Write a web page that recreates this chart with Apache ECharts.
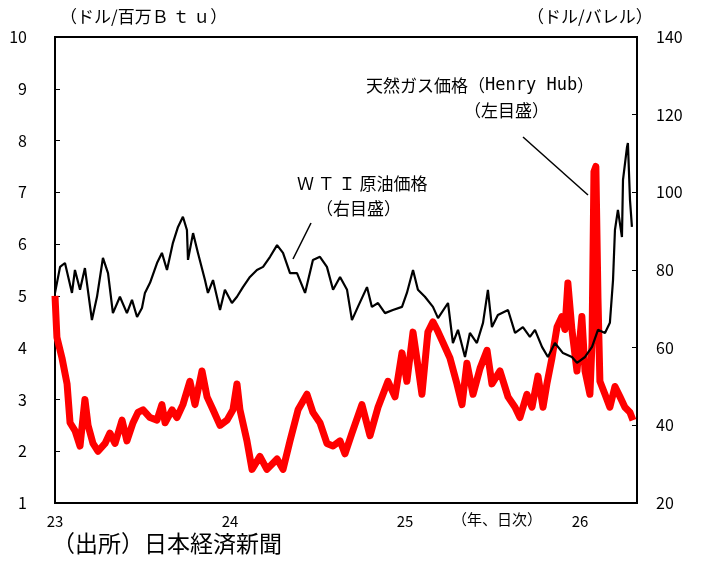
<!DOCTYPE html>
<html>
<head>
<meta charset="utf-8">
<script src="https://cdn.jsdelivr.net/npm/echarts@6/dist/echarts.min.js"></script>
<style>
  html, body { margin: 0; padding: 0; background: #fff; }
  #chart { width: 705px; height: 563px; }
</style>
</head>
<body>
<div id="chart"></div>
<script>
// x values are decimal years (2023.0 = start of 2023)
var gasDates = [2023.000, 2023.011, 2023.040, 2023.069, 2023.086, 2023.114, 2023.143, 2023.171, 2023.189, 2023.217,
  2023.246, 2023.286, 2023.314, 2023.343, 2023.383, 2023.411, 2023.446, 2023.474, 2023.503, 2023.543,
  2023.583, 2023.611, 2023.629, 2023.669, 2023.697, 2023.731, 2023.771, 2023.800, 2023.840, 2023.869,
  2023.903, 2023.943, 2023.983, 2024.017, 2024.040, 2024.057, 2024.097, 2024.126, 2024.171, 2024.211,
  2024.269, 2024.303, 2024.343, 2024.389, 2024.440, 2024.474, 2024.514, 2024.554, 2024.589, 2024.629,
  2024.657, 2024.697, 2024.754, 2024.800, 2024.846, 2024.903, 2024.943, 2024.983, 2025.011, 2025.046,
  2025.074, 2025.097, 2025.131, 2025.160, 2025.183, 2025.217, 2025.257, 2025.297, 2025.326, 2025.354,
  2025.389, 2025.429, 2025.469, 2025.497, 2025.543, 2025.589, 2025.629, 2025.657, 2025.697, 2025.726,
  2025.760, 2025.789, 2025.811, 2025.840, 2025.869, 2025.897, 2025.914, 2025.931, 2025.954, 2025.983,
  2026.011, 2026.029, 2026.057, 2026.069, 2026.080, 2026.091, 2026.103, 2026.114, 2026.143, 2026.171,
  2026.200, 2026.229, 2026.257, 2026.286, 2026.303];
var gasValues = [5.0, 4.2, 3.8, 3.3, 2.55, 2.4, 2.1, 3.0, 2.5, 2.15,
  2.0, 2.15, 2.35, 2.15, 2.6, 2.2, 2.55, 2.75, 2.8, 2.65,
  2.6, 2.9, 2.55, 2.8, 2.65, 2.9, 3.35, 2.9, 3.55, 3.05,
  2.8, 2.5, 2.6, 2.8, 3.3, 2.8, 2.2, 1.65, 1.9, 1.65,
  1.85, 1.65, 2.2, 2.8, 3.1, 2.75, 2.55, 2.15, 2.1, 2.2,
  1.95, 2.35, 2.9, 2.3, 2.85, 3.35, 3.05, 3.9, 3.35, 4.3,
  3.65, 3.1, 4.3, 4.5, 4.35, 4.1, 3.8, 3.3, 2.9, 3.7,
  3.1, 3.6, 3.95, 3.3, 3.55, 3.05, 2.85, 2.65, 3.1, 2.85,
  3.45, 2.85, 3.3, 3.8, 4.4, 4.6, 4.35, 5.25, 4.35, 3.55,
  4.6, 3.55, 3.1, 4.1, 7.4, 7.5, 4.95, 3.35, 3.1, 2.85,
  3.25, 3.05, 2.85, 2.75, 2.6];

var wtiDates = [2023.000, 2023.029, 2023.057, 2023.097, 2023.114, 2023.143, 2023.171, 2023.211, 2023.240, 2023.274,
  2023.303, 2023.331, 2023.371, 2023.411, 2023.440, 2023.469, 2023.497, 2023.514, 2023.543, 2023.583,
  2023.611, 2023.640, 2023.674, 2023.703, 2023.731, 2023.754, 2023.760, 2023.789, 2023.817, 2023.857,
  2023.874, 2023.903, 2023.943, 2023.971, 2024.011, 2024.040, 2024.074, 2024.114, 2024.154, 2024.189,
  2024.229, 2024.269, 2024.303, 2024.343, 2024.383, 2024.429, 2024.474, 2024.514, 2024.554, 2024.589,
  2024.629, 2024.669, 2024.697, 2024.731, 2024.783, 2024.811, 2024.846, 2024.886, 2024.931, 2024.983,
  2025.011, 2025.046, 2025.074, 2025.114, 2025.160, 2025.189, 2025.246, 2025.274, 2025.303, 2025.343,
  2025.371, 2025.411, 2025.446, 2025.474, 2025.497, 2025.531, 2025.589, 2025.629, 2025.674, 2025.714,
  2025.743, 2025.783, 2025.817, 2025.857, 2025.903, 2025.954, 2025.983, 2026.029, 2026.069, 2026.103,
  2026.143, 2026.171, 2026.189, 2026.200, 2026.217, 2026.240, 2026.246, 2026.269, 2026.274, 2026.286,
  2026.297];
var wtiValues = [74.1, 80.8, 81.8, 74.1, 80.0, 74.9, 80.5, 67.1, 73.1, 83.1,
  79.2, 68.9, 73.1, 68.9, 72.3, 67.9, 70.2, 74.1, 76.7, 81.8,
  84.4, 80.0, 87.0, 91.1, 93.7, 90.3, 82.6, 89.5, 84.4, 77.4,
  74.1, 77.4, 69.7, 74.9, 71.5, 73.1, 75.6, 78.2, 80.0, 80.8,
  83.4, 86.4, 84.4, 79.2, 79.2, 74.1, 82.6, 83.4, 80.8, 74.9,
  78.2, 74.9, 67.1, 70.5, 75.6, 70.5, 71.5, 68.9, 69.7, 70.5,
  74.1, 80.0, 74.9, 73.1, 70.5, 67.6, 71.5, 61.2, 64.6, 57.6,
  63.8, 61.2, 66.4, 74.9, 65.3, 68.4, 69.7, 63.8, 65.3, 62.8,
  64.6, 60.2, 57.6, 61.2, 58.6, 57.6, 56.1, 57.6, 60.2, 64.6,
  63.8, 66.4, 77.4, 90.3, 95.5, 88.5, 103.2, 111.7, 112.7, 98.0,
  91.1];

var yearLabels = { 2023: '23', 2024: '24', 2025: '25', 2026: '26' };

function pairs(xs, ys) {
  var out = [];
  for (var i = 0; i < xs.length; i++) out.push([xs[i], ys[i]]);
  return out;
}

var font = '"Noto Sans CJK JP", "Noto Sans", sans-serif';
var mono = '"DejaVu Sans Mono", monospace';
var myChart = echarts.init(document.getElementById('chart'));

myChart.setOption({
  animation: false,
  textStyle: { fontFamily: font },
  grid: {
    left: 55, right: 68, top: 37, bottom: 60,
    show: true, borderColor: '#000', borderWidth: 2, backgroundColor: 'transparent'
  },
  xAxis: {
    type: 'value',
    min: 2023,
    max: 2026.326,
    interval: 1,
    splitLine: { show: false },
    axisTick: { show: false },
    axisLine: { lineStyle: { color: '#000', width: 2 } },
    axisLabel: {
      color: '#000', fontSize: 15, margin: 11,
      showMaxLabel: false,
      formatter: function (v) { return yearLabels[Math.round(v)] || ''; }
    }
  },
  yAxis: [{
    type: 'value',
    min: 1, max: 10, interval: 1,
    splitLine: { show: false },
    axisLine: { show: true, lineStyle: { color: '#000', width: 2 } },
    axisTick: { show: true, inside: true, length: 5, lineStyle: { color: '#000' } },
    axisLabel: { color: '#000', fontSize: 16, margin: 28 }
  }, {
    type: 'value',
    min: 20, max: 140, interval: 20,
    position: 'right',
    splitLine: { show: false },
    axisLine: { show: true, lineStyle: { color: '#000', width: 2 } },
    axisTick: { show: true, inside: true, length: 5, lineStyle: { color: '#000' } },
    axisLabel: { color: '#000', fontSize: 16, margin: 19 }
  }],
  graphic: [
    { type: 'text', left: 60, top: 8, style: { text: '（ドル/百万Ｂ ｔ ｕ）', font: '17px ' + font, fill: '#000' } },
    { type: 'text', left: 527, top: 8, style: { text: '（ドル/バレル）', font: '17px ' + font, fill: '#000' } },
    { type: 'text', left: 452, top: 512, style: { text: '（年、日次）', font: '15px ' + font, fill: '#000' } },
    { type: 'text', left: 52, top: 532, style: { text: '（出所）日本経済新聞', font: '23px ' + font, fill: '#000' } },
    { type: 'text', left: 297, top: 175, style: { text: 'Ｗ Ｔ Ｉ 原油価格', font: '17px ' + font, fill: '#000' } },
    { type: 'text', left: 316, top: 200, style: { text: '（右目盛）', font: '17px ' + font, fill: '#000' } },
    {
      type: 'text', left: 366, top: 77,
      style: {
        text: '{a|天然ガス価格（}{b|Henry Hub}{a|）}',
        rich: {
          a: { fontSize: 17, fontFamily: font, fill: '#000' },
          b: { fontSize: 17, fontFamily: mono, fill: '#000' }
        }
      }
    },
    { type: 'text', left: 464, top: 102, style: { text: '（左目盛）', font: '17px ' + font, fill: '#000' } },
    { type: 'line', shape: { x1: 293, y1: 259, x2: 311, y2: 223 }, style: { stroke: '#000', lineWidth: 1.5 } },
    { type: 'line', shape: { x1: 523, y1: 137, x2: 588, y2: 195 }, style: { stroke: '#000', lineWidth: 1.5 } }
  ],
  series: [{
    name: '天然ガス価格',
    type: 'line',
    yAxisIndex: 0,
    data: pairs(gasDates, gasValues),
    showSymbol: false,
    lineStyle: { color: '#ff0000', width: 7, join: 'round' }
  }, {
    name: 'WTI原油価格',
    type: 'line',
    yAxisIndex: 1,
    data: pairs(wtiDates, wtiValues),
    showSymbol: false,
    lineStyle: { color: '#000', width: 2.2 }
  }]
});
</script>
</body>
</html>
